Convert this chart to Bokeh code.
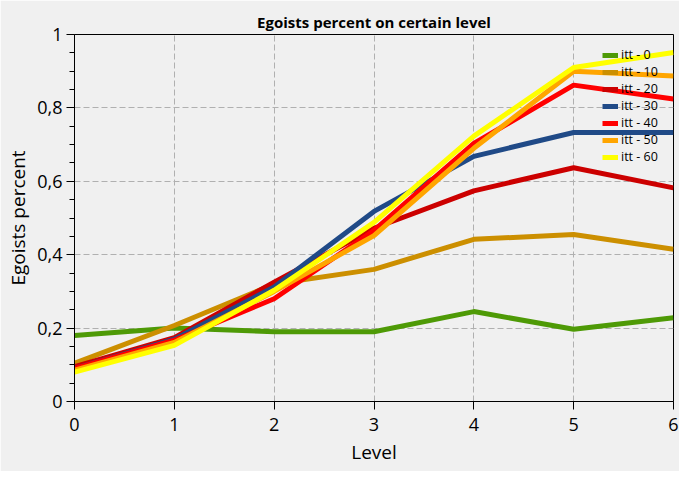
from bokeh.plotting import figure
from bokeh.models import Range1d, FixedTicker, Legend
from bokeh.embed import file_html
from bokeh.resources import INLINE

levels = [0, 1, 2, 3, 4, 5, 6]
itt_0 = [0.180, 0.200, 0.190, 0.190, 0.245, 0.197, 0.228]
itt_10 = [0.104, 0.207, 0.320, 0.360, 0.442, 0.455, 0.415]
itt_20 = [0.095, 0.174, 0.325, 0.472, 0.574, 0.637, 0.582]
itt_30 = [0.090, 0.170, 0.312, 0.518, 0.668, 0.733, 0.733]
itt_40 = [0.090, 0.167, 0.280, 0.466, 0.703, 0.862, 0.824]
itt_50 = [0.085, 0.161, 0.300, 0.452, 0.690, 0.900, 0.887]
itt_60 = [0.080, 0.153, 0.303, 0.488, 0.723, 0.910, 0.951]

series_names = ["itt - 0", "itt - 10", "itt - 20", "itt - 30", "itt - 40", "itt - 50", "itt - 60"]
series_values = [itt_0, itt_10, itt_20, itt_30, itt_40, itt_50, itt_60]
series_colors = ["#4e9a06", "#cc8f00", "#cc0000", "#204a87", "#ff0000", "#ffa500", "#ffff00"]

x_ticks = [0, 1, 2, 3, 4, 5, 6]
y_ticks = [0, 0.2, 0.4, 0.6, 0.8, 1]
y_tick_labels = ["0", "0,2", "0,4", "0,6", "0,8", "1"]
y_minor = [0.05, 0.1, 0.15, 0.25, 0.3, 0.35, 0.45, 0.5, 0.55, 0.65, 0.7, 0.75, 0.85, 0.9, 0.95]

FONT = "Open Sans"
BG = "#f0f0f0"

p = figure(width=679, height=471, output_backend="svg", toolbar_location=None,
           x_range=Range1d(0, 6), y_range=Range1d(0, 1),
           min_border_left=74, min_border_right=6, min_border_top=34, min_border_bottom=70,
           background_fill_color=BG, border_fill_color=BG,
           title="Egoists percent on certain level")

p.title.align = "center"
p.title.text_font = FONT
p.title.text_font_size = "15px"
p.title.text_font_style = "bold"
p.title.text_color = "#000000"
p.title.offset = 0
p.title.standoff = 5

p.outline_line_color = "#000000"
p.outline_line_width = 1
p.outline_line_alpha = 1

renderers = []
for name, vals, col in zip(series_names, series_values, series_colors):
    r = p.line(levels, vals, line_color=col, line_width=5)
    renderers.append((name, [r]))

legend = Legend(items=renderers, location=(528, 236))
legend.background_fill_alpha = 0
legend.border_line_alpha = 0
legend.label_text_font = FONT
legend.label_text_font_size = "12.5px"
legend.label_text_color = "#000000"
legend.glyph_width = 16
legend.glyph_height = 16
legend.label_height = 16
legend.spacing = 0
legend.padding = 0
legend.margin = 0
legend.label_standoff = 3
p.add_layout(legend, "center")

# axes
for ax in (p.xaxis[0], p.yaxis[0]):
    ax.axis_line_color = "#000000"
    ax.major_tick_line_color = "#000000"
    ax.minor_tick_line_color = "#000000"
    ax.major_label_text_font = FONT
    ax.major_label_text_font_size = "18px"
    ax.major_label_text_color = "#000000"
    ax.axis_label_text_font = FONT
    ax.axis_label_text_font_size = "19px"
    ax.axis_label_text_font_style = "normal"
    ax.axis_label_text_color = "#000000"
    ax.major_tick_out = 8
    ax.major_tick_in = 0

p.xaxis.ticker = FixedTicker(ticks=x_ticks)
p.xaxis.minor_tick_line_color = None
p.xaxis.axis_label = "Level"
p.xaxis.major_label_standoff = 8
p.xaxis.axis_label_standoff = 5

p.yaxis.ticker = FixedTicker(ticks=y_ticks, minor_ticks=y_minor)
p.yaxis.major_label_overrides = {t: l for t, l in zip(y_ticks, y_tick_labels)}
p.yaxis.minor_tick_out = 5
p.yaxis.minor_tick_in = 0
p.yaxis.axis_label = "Egoists percent"
p.yaxis.major_label_standoff = 4
p.yaxis.axis_label_standoff = 3

p.xgrid.ticker = FixedTicker(ticks=x_ticks)
p.ygrid.ticker = FixedTicker(ticks=y_ticks)
for g in (p.xgrid[0], p.ygrid[0]):
    g.grid_line_color = "#b0b0b0"
    g.grid_line_dash = "6 3"
    g.grid_line_width = 1

open("out.html", "w").write(file_html(p, INLINE))
